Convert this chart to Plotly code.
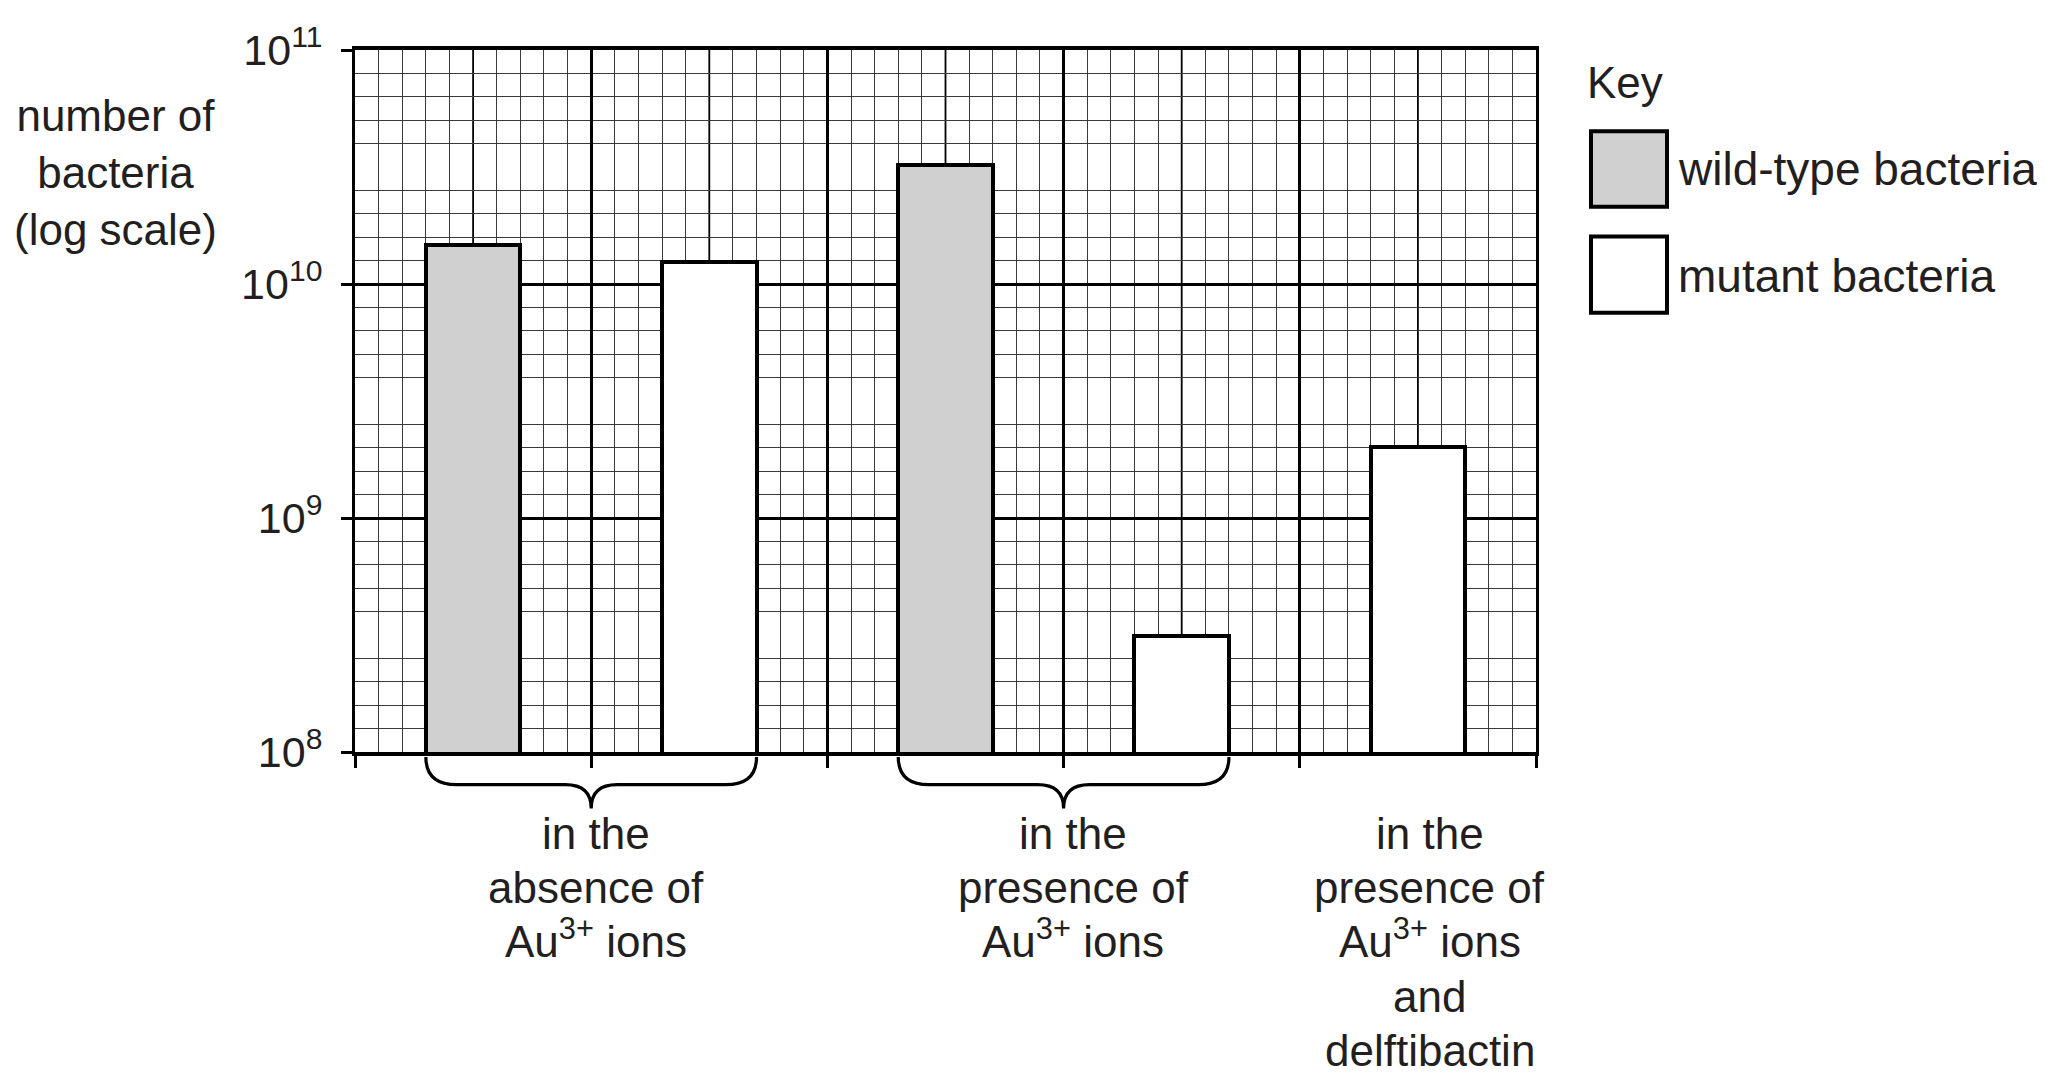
import plotly.graph_objects as go

# values
groups = [
    "in the<br>absence of<br>Au<sup>3+</sup> ions",
    "in the<br>presence of<br>Au<sup>3+</sup> ions",
    "in the<br>presence of<br>Au<sup>3+</sup> ions<br>and<br>delftibactin",
]
wild_type = [1.47e10, 3.22e10, None]
mutant = [1.24e10, 3.14e8, 2.01e9]

series_names = ["wild-type bacteria", "mutant bacteria"]
series_colors = ["#d0d0d0", "#ffffff"]

decades = [8, 9, 10, 11]
decade_labels = ["10<sup>8</sup>", "10<sup>9</sup>", "10<sup>10</sup>", "10<sup>11</sup>"]

# reference picture: plot box spans x 355..1536, y 44..752 (page has an 8px body margin)
W, H = 2045, 1089
L, R, T, B = 355, 509, 44, 337
OFF = 8
COLS = 50  # small squares across
group_center = [10, 30, 45]
pair_offset = 5
bar_width = 4
label_x = [10.2, 30.4, 45.5]
FONT = "Liberation Sans, Arial, Helvetica, sans-serif"
INK = "#231f20"


def px(x):
    return (x - L) / (W - L - R)


def py(y):
    return (H - B - y) / (H - T - B)


wild_x, wild_y, mut_x, mut_y = [], [], [], []
for c, w, m in zip(group_center, wild_type, mutant):
    if w is not None:
        wild_x.append(c - pair_offset)
        wild_y.append(w)
        mut_x.append(c + pair_offset)
    else:
        mut_x.append(c)
    mut_y.append(m)

fig = go.Figure()
for name, xs, ys, col in [(series_names[0], wild_x, wild_y, series_colors[0]),
                          (series_names[1], mut_x, mut_y, series_colors[1])]:
    fig.add_trace(go.Bar(x=xs, y=ys, name=name, width=bar_width,
                         marker=dict(color=col, line=dict(color="black", width=4)),
                         showlegend=False, hoverinfo="skip"))

lo, hi = decades[0], decades[-1]
shapes = []
# medium lines every 5 squares
for i in range(5, COLS, 10):
    shapes.append(dict(type="line", xref="x", yref="paper", x0=i, x1=i, y0=0, y1=1,
                       layer="between", line=dict(color="black", width=1.8)))
for d in decades[:-1]:
    shapes.append(dict(type="line", xref="paper", yref="y", x0=0, x1=1, y0=d + 0.5, y1=d + 0.5,
                       layer="between", line=dict(color="black", width=1.8)))

# braces under the first two groups
by0, by1, by2 = py(757), py(785), py(809)
for c, w in zip(group_center, wild_type):
    if w is None:
        continue
    a = c - pair_offset - bar_width / 2
    b = c + pair_offset + bar_width / 2
    path = (f"M {a},{by0} Q {a},{by1} {a + 1.3},{by1} L {c - 1.1},{by1} Q {c},{by1} {c},{by2} "
            f"Q {c},{by1} {c + 1.1},{by1} L {b - 1.3},{by1} Q {b},{by1} {b},{by0}")
    shapes.append(dict(type="path", xref="x", yref="paper", path=path,
                       line=dict(color="black", width=3.2)))

# key boxes
key_boxes = [(126, 202), (232, 309)]
for (t, bt), col in zip(key_boxes, series_colors):
    shapes.append(dict(type="rect", xref="paper", yref="paper",
                       x0=px(1591), x1=px(1667), y0=py(bt), y1=py(t),
                       fillcolor=col, line=dict(color="black", width=4)))

annotations = []
# group labels, one annotation per line so the line step follows the picture
LABEL_SIZE = 44
for x, txt in zip(label_x, groups):
    for k, line in enumerate(txt.split("<br>")):
        baseline = 851 + 54.5 * k
        annotations.append(dict(x=x, y=py(baseline + 0.212 * LABEL_SIZE + 1), xref="x", yref="paper",
                                text=line, showarrow=False, xanchor="center", yanchor="bottom",
                                font=dict(size=LABEL_SIZE, color=INK, family=FONT)))
annotations.append(dict(x=px(115), y=py(168), xref="paper", yref="paper",
                        text="number of<br>bacteria<br>(log scale)", showarrow=False,
                        xanchor="center", yanchor="middle", align="center",
                        font=dict(size=44, color=INK, family=FONT)))
annotations.append(dict(x=px(1585), y=py(77), xref="paper", yref="paper", text="Key",
                        showarrow=False, xanchor="left", yanchor="middle",
                        font=dict(size=44, color=INK, family=FONT)))
for name, yc in zip(series_names, [164, 272]):
    annotations.append(dict(x=px(1676), y=py(yc), xref="paper", yref="paper", text=name,
                            showarrow=False, xanchor="left", yanchor="middle",
                            font=dict(size=46, color=INK, family=FONT)))

fig.update_layout(
    width=W - 2 * OFF, height=H - 2 * OFF, autosize=False,
    margin=dict(l=L - OFF, r=R - OFF, t=T - OFF, b=B - OFF, pad=0),
    paper_bgcolor="white", plot_bgcolor="white",
    font=dict(family=FONT, color=INK, size=42),
    shapes=shapes, annotations=annotations,
    bargap=0,
    xaxis=dict(range=[0, COLS], tickmode="array", tickvals=list(range(0, COLS + 1, 10)),
               showticklabels=False, ticks="outside", ticklen=12, tickwidth=3, tickcolor="black",
               showgrid=True, gridcolor="black", gridwidth=2.6, zeroline=False,
               showline=True, linecolor="black", linewidth=3.5, mirror=True,
               minor=dict(tickmode="array", tickvals=[i for i in range(COLS + 1) if i % 5],
                          showgrid=True, gridcolor="#3a3a3a", gridwidth=1, ticks="")),
    yaxis=dict(type="log", range=[lo, hi], tickmode="array",
               tickvals=[10 ** d for d in decades], ticktext=decade_labels,
               ticks="outside", ticklen=11, tickwidth=3, tickcolor="black",
               ticklabelstandoff=10, tickfont=dict(size=43, color=INK, family=FONT),
               showgrid=True, gridcolor="black", gridwidth=2.6, zeroline=False,
               showline=True, linecolor="black", linewidth=3, mirror=True,
               minor=dict(tickmode="array",
                          tickvals=[10 ** (lo + k / 10) for k in range((hi - lo) * 10 + 1) if k % 5],
                          showgrid=True, gridcolor="#3a3a3a", gridwidth=1, ticks="")),
)

fig.write_html("out.html")
